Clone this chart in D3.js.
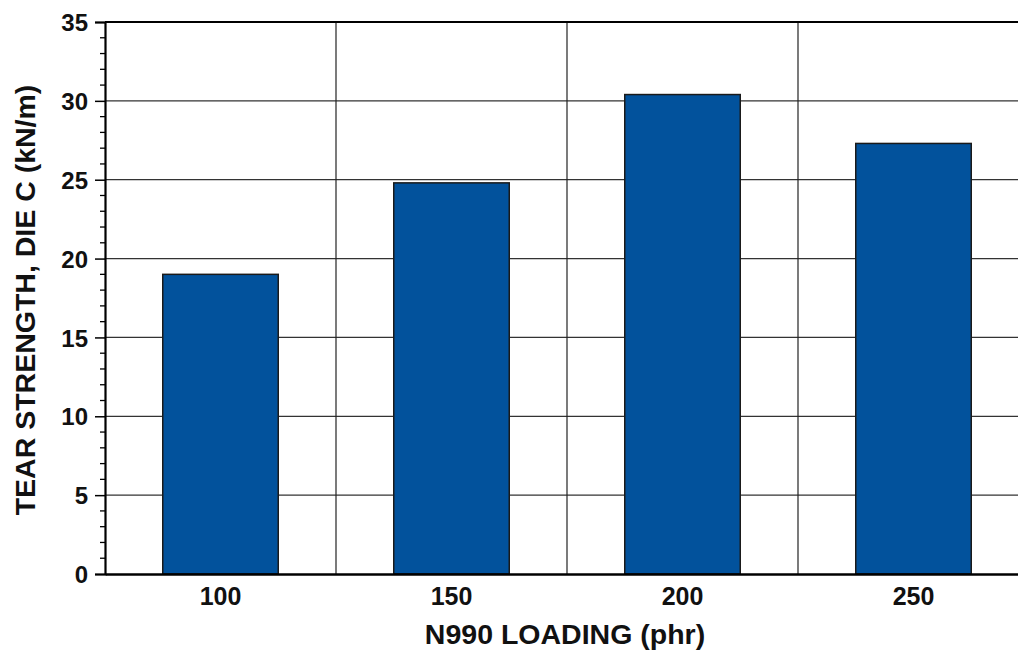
<!DOCTYPE html>
<html><head><meta charset="utf-8">
<script src="https://cdn.jsdelivr.net/npm/d3@7"></script>
<style>body{margin:0;background:#fff;overflow:hidden}svg{display:block}text{font-family:"Liberation Sans",Arial,sans-serif;font-weight:bold;fill:#111}</style>
</head><body>
<script>
const categories = ["100","150","200","250"];
const values = [19.0, 24.8, 30.4, 27.3];
const yTicks = [0,5,10,15,20,25,30,35];
const xTitle = "N990 LOADING (phr)";
const yTitle = "TEAR STRENGTH, DIE C (kN/m)";

const W=1018,H=652;
const m={left:105,top:22,right:1029,bottom:574};
const svg=d3.select("body").append("svg").attr("width",W).attr("height",H);
const x=d3.scaleBand().domain(categories).range([m.left,m.right]).paddingInner(0).paddingOuter(0);
const y=d3.scaleLinear().domain([0,35]).range([m.bottom,m.top]);

// horizontal grid
svg.append("g").selectAll("line").data(yTicks.slice(1,-1)).join("line")
 .attr("x1",m.left).attr("x2",m.right).attr("y1",d=>y(d)).attr("y2",d=>y(d))
 .attr("stroke","#333").attr("stroke-width",1.3);
// vertical grid
svg.append("g").selectAll("line").data(categories.slice(1)).join("line")
 .attr("x1",d=>x(d)).attr("x2",d=>x(d)).attr("y1",m.top).attr("y2",m.bottom)
 .attr("stroke","#222").attr("stroke-width",1.2);

// bars
const bw=x.bandwidth()*0.5;
svg.append("g").selectAll("rect").data(values).join("rect")
 .attr("x",(d,i)=>x(categories[i])+x.bandwidth()/2-bw/2)
 .attr("width",bw)
 .attr("y",d=>y(d)).attr("height",d=>y(0)-y(d))
 .attr("fill","#02529c").attr("stroke","#1a1a1a").attr("stroke-width",1.5);

// top border
svg.append("line").attr("x1",m.left).attr("x2",m.right).attr("y1",m.top).attr("y2",m.top)
 .attr("stroke","#000").attr("stroke-width",2.2);

// y axis
const ya=svg.append("g").attr("transform",`translate(${m.left},0)`)
 .call(d3.axisLeft(y).tickValues(yTicks).tickSize(10).tickPadding(7).tickFormat(d3.format("d")));
ya.select(".domain").attr("stroke","#000").attr("stroke-width",2.2);
ya.selectAll(".tick line").attr("stroke","#000").attr("stroke-width",1.5);
ya.selectAll(".tick text").style("font-size","24px").attr("dy","0.36em");
// minor ticks
const minor=d3.range(0,35,1).filter(v=>v%5!==0);
svg.append("g").selectAll("line").data(minor).join("line")
 .attr("x1",m.left-5).attr("x2",m.left).attr("y1",d=>y(d)).attr("y2",d=>y(d))
 .attr("stroke","#000").attr("stroke-width",1.3);

// x axis
const xa=svg.append("g").attr("transform",`translate(0,${m.bottom})`)
 .call(d3.axisBottom(x).tickSize(0).tickPadding(13));
xa.select(".domain").attr("stroke","#000").attr("stroke-width",2.4);
xa.selectAll(".tick text").style("font-size","25px");

svg.append("text").attr("x",565).attr("y",644).attr("text-anchor","middle").style("font-size","28.5px").text(xTitle);
svg.append("text").attr("transform",`translate(35,300) rotate(-90)`).attr("text-anchor","middle").style("font-size","28.5px").text(yTitle);
</script>
</body></html>
